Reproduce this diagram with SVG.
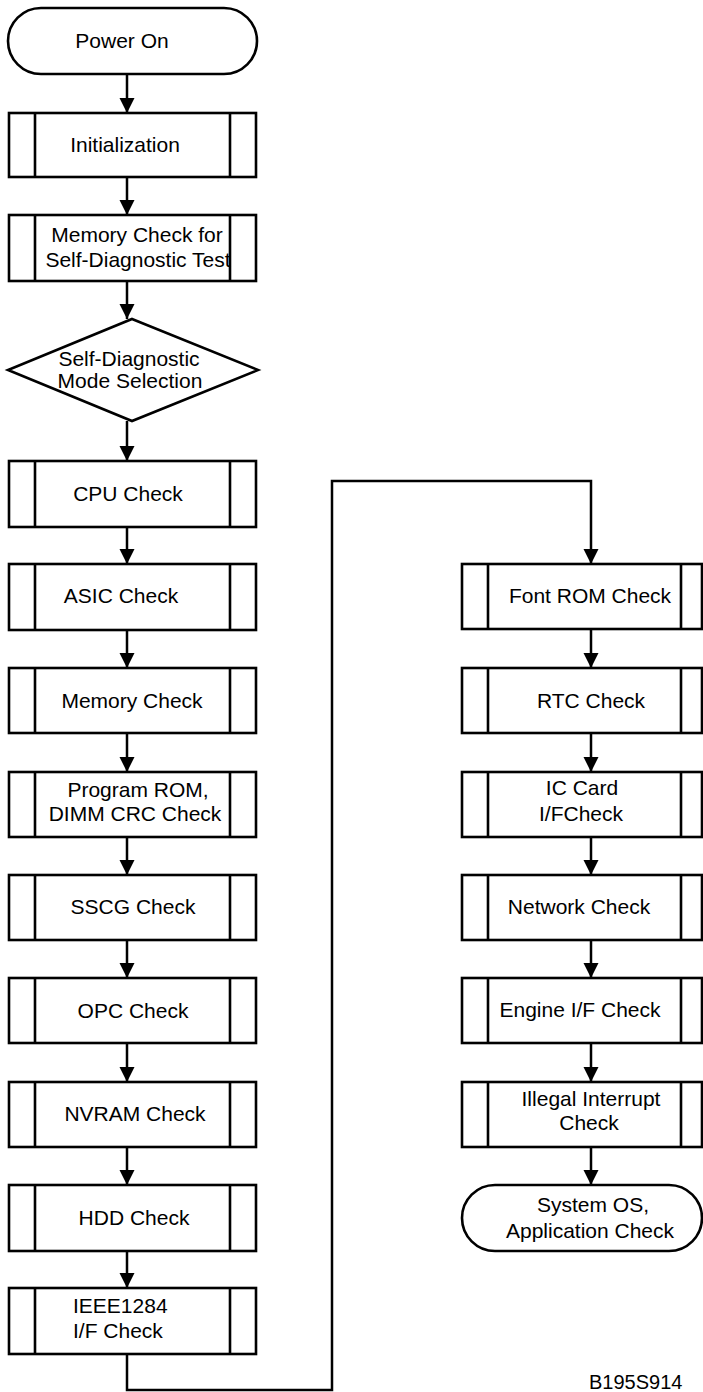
<svg xmlns="http://www.w3.org/2000/svg" width="703" height="1392" viewBox="0 0 703 1392">
<style>
.b{fill:#fff;stroke:#000;stroke-width:2.6}
.l{fill:none;stroke:#000;stroke-width:2.6}
.c{fill:none;stroke:#000;stroke-width:2.5}
.t{font-family:"Liberation Sans",Arial,sans-serif;font-size:21px;fill:#000;text-anchor:middle}
.a{fill:#000}
</style>
<defs>
<path id="ah" d="M-7.5,-15 L7.5,-15 L0,0 Z"/>
</defs>
<rect width="703" height="1392" fill="#fff"/>
<g id="connectors">
<path class="c" d="M127,74 V113 M127,177 V215 M127,281 V319 M127,421 V461 M127,527 V564 M127,630 V668 M127,733 V772 M127,837 V875 M127,940 V978 M127,1043 V1082 M127,1147 V1185 M127,1251 V1288"/>
<path class="c" stroke-width="2" d="M127,1354 V1390 H332 V481 H591 V564"/>
<path class="c" d="M591,630 V668 M591,733 V772 M591,837 V875 M591,940 V978 M591,1043 V1082 M591,1147 V1185"/>
<use href="#ah" class="a" x="127" y="113"/>
<use href="#ah" class="a" x="127" y="215"/>
<use href="#ah" class="a" x="127" y="319"/>
<use href="#ah" class="a" x="127" y="461"/>
<use href="#ah" class="a" x="127" y="564"/>
<use href="#ah" class="a" x="127" y="668"/>
<use href="#ah" class="a" x="127" y="772"/>
<use href="#ah" class="a" x="127" y="875"/>
<use href="#ah" class="a" x="127" y="978"/>
<use href="#ah" class="a" x="127" y="1082"/>
<use href="#ah" class="a" x="127" y="1185"/>
<use href="#ah" class="a" x="127" y="1288"/>
<use href="#ah" class="a" x="591" y="564"/>
<use href="#ah" class="a" x="591" y="668"/>
<use href="#ah" class="a" x="591" y="772"/>
<use href="#ah" class="a" x="591" y="875"/>
<use href="#ah" class="a" x="591" y="978"/>
<use href="#ah" class="a" x="591" y="1082"/>
<use href="#ah" class="a" x="591" y="1185"/>
</g>
<g id="power-on">
<rect class="b" x="8" y="8" width="249" height="66" rx="33"/>
<text class="t" x="122" y="48">Power On</text>
</g>
<g id="init">
<rect class="b" x="9" y="113" width="247" height="64"/>
<text class="t" x="125" y="152">Initialization</text>
<path class="l" d="M35,113 V177 M230,113 V177"/>
</g>
<g id="memcheck-self">
<rect class="b" x="9" y="215" width="247" height="66"/>
<text class="t" x="137" y="242">Memory Check for</text>
<text class="t" x="138" y="267">Self-Diagnostic Test</text>
<path class="l" d="M35,215 V281 M230,215 V281"/>
</g>
<g id="mode-select">
<path class="b" d="M132,319 L258,370 L132,421 L8,370 Z"/>
<text class="t" x="129" y="366">Self-Diagnostic</text>
<text class="t" x="130" y="388">Mode Selection</text>
</g>
<g id="cpu">
<rect class="b" x="9" y="461" width="247" height="66"/>
<text class="t" x="128" y="501">CPU Check</text>
<path class="l" d="M35,461 V527 M230,461 V527"/>
</g>
<g id="asic">
<rect class="b" x="9" y="564" width="247" height="66"/>
<text class="t" x="121" y="603">ASIC Check</text>
<path class="l" d="M35,564 V630 M230,564 V630"/>
</g>
<g id="memory">
<rect class="b" x="9" y="668" width="247" height="65"/>
<text class="t" x="132" y="708">Memory Check</text>
<path class="l" d="M35,668 V733 M230,668 V733"/>
</g>
<g id="progrom">
<rect class="b" x="9" y="772" width="247" height="65"/>
<text class="t" x="138" y="797">Program ROM,</text>
<text class="t" x="135" y="821">DIMM CRC Check</text>
<path class="l" d="M35,772 V837 M230,772 V837"/>
</g>
<g id="sscg">
<rect class="b" x="9" y="875" width="247" height="65"/>
<text class="t" x="133" y="914">SSCG Check</text>
<path class="l" d="M35,875 V940 M230,875 V940"/>
</g>
<g id="opc">
<rect class="b" x="9" y="978" width="247" height="65"/>
<text class="t" x="133" y="1018">OPC Check</text>
<path class="l" d="M35,978 V1043 M230,978 V1043"/>
</g>
<g id="nvram">
<rect class="b" x="9" y="1082" width="247" height="65"/>
<text class="t" x="135" y="1121">NVRAM Check</text>
<path class="l" d="M35,1082 V1147 M230,1082 V1147"/>
</g>
<g id="hdd">
<rect class="b" x="9" y="1185" width="247" height="66"/>
<text class="t" x="134" y="1225">HDD Check</text>
<path class="l" d="M35,1185 V1251 M230,1185 V1251"/>
</g>
<g id="ieee">
<rect class="b" x="9" y="1288" width="247" height="66"/>
<text class="t" x="73" y="1313" style="text-anchor:start">IEEE1284</text>
<text class="t" x="73" y="1338" style="text-anchor:start">I/F Check</text>
<path class="l" d="M35,1288 V1354 M230,1288 V1354"/>
</g>
<g id="fontrom">
<rect class="b" x="462" y="564" width="240" height="65"/>
<text class="t" x="590" y="603">Font ROM Check</text>
<path class="l" d="M488,564 V629 M681,564 V629"/>
</g>
<g id="rtc">
<rect class="b" x="462" y="668" width="240" height="65"/>
<text class="t" x="591" y="708">RTC Check</text>
<path class="l" d="M488,668 V733 M681,668 V733"/>
</g>
<g id="iccard">
<rect class="b" x="462" y="772" width="240" height="65"/>
<text class="t" x="582" y="795">IC Card</text>
<text class="t" x="581" y="821">I/FCheck</text>
<path class="l" d="M488,772 V837 M681,772 V837"/>
</g>
<g id="network">
<rect class="b" x="462" y="875" width="240" height="65"/>
<text class="t" x="579" y="914">Network Check</text>
<path class="l" d="M488,875 V940 M681,875 V940"/>
</g>
<g id="engine">
<rect class="b" x="462" y="978" width="240" height="65"/>
<text class="t" x="580" y="1017">Engine I/F Check</text>
<path class="l" d="M488,978 V1043 M681,978 V1043"/>
</g>
<g id="illegal">
<rect class="b" x="462" y="1082" width="240" height="65"/>
<text class="t" x="591" y="1106">Illegal Interrupt</text>
<text class="t" x="589" y="1130">Check</text>
<path class="l" d="M488,1082 V1147 M681,1082 V1147"/>
</g>
<g id="system-os">
<rect class="b" x="462" y="1185" width="240" height="66" rx="33"/>
<text class="t" x="593" y="1212">System OS,</text>
<text class="t" x="590" y="1238">Application Check</text>
</g>
<text class="t" x="589" y="1389" style="text-anchor:start;font-size:20px">B195S914</text>
</svg>
